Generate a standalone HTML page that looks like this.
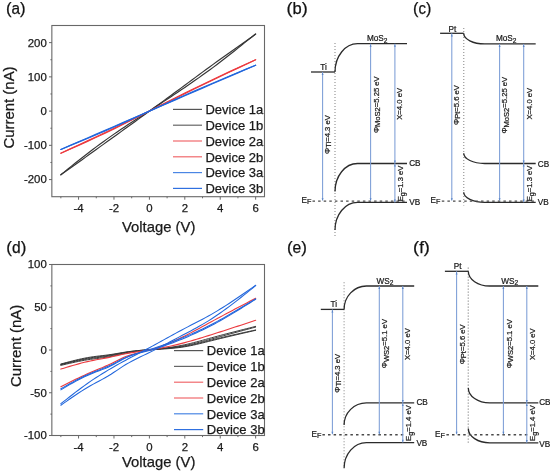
<!DOCTYPE html>
<html><head><meta charset="utf-8"><style>
html,body{margin:0;padding:0;background:#fff;}
body{width:550px;height:471px;overflow:hidden;}
svg{display:block;filter:blur(0.4px);font-family:"Liberation Sans", sans-serif;}
text{stroke:#1a1a1a;stroke-width:0.25px;}
.bt{stroke:#1a1a1a;stroke-width:0.22px;}
</style></head><body>
<svg width="550" height="471" viewBox="0 0 550 471">
<rect width="550" height="471" fill="#fff"/>
<g><rect x="51.85" y="25.5" width="212.65" height="171.2" fill="none" stroke="#686868" stroke-width="1.1"/><line x1="49.0" y1="179.58" x2="52.0" y2="179.58" stroke="#686868" stroke-width="1"/><text x="46.8" y="183.48" text-anchor="end" font-size="11.4" fill="#1a1a1a">-200</text><line x1="49.0" y1="145.34" x2="52.0" y2="145.34" stroke="#686868" stroke-width="1"/><text x="46.8" y="149.24" text-anchor="end" font-size="11.4" fill="#1a1a1a">-100</text><line x1="49.0" y1="111.10" x2="52.0" y2="111.10" stroke="#686868" stroke-width="1"/><text x="46.8" y="115.00" text-anchor="end" font-size="11.4" fill="#1a1a1a">0</text><line x1="49.0" y1="76.86" x2="52.0" y2="76.86" stroke="#686868" stroke-width="1"/><text x="46.8" y="80.76" text-anchor="end" font-size="11.4" fill="#1a1a1a">100</text><line x1="49.0" y1="42.62" x2="52.0" y2="42.62" stroke="#686868" stroke-width="1"/><text x="46.8" y="46.52" text-anchor="end" font-size="11.4" fill="#1a1a1a">200</text><line x1="50.4" y1="162.46" x2="52.0" y2="162.46" stroke="#686868" stroke-width="1"/><line x1="50.4" y1="128.22" x2="52.0" y2="128.22" stroke="#686868" stroke-width="1"/><line x1="50.4" y1="93.98" x2="52.0" y2="93.98" stroke="#686868" stroke-width="1"/><line x1="50.4" y1="59.74" x2="52.0" y2="59.74" stroke="#686868" stroke-width="1"/><line x1="78.56" y1="196.7" x2="78.56" y2="199.7" stroke="#686868" stroke-width="1"/><text x="78.56" y="212.2" text-anchor="middle" font-size="11.4" fill="#1a1a1a">-4</text><line x1="113.98" y1="196.7" x2="113.98" y2="199.7" stroke="#686868" stroke-width="1"/><text x="113.98" y="212.2" text-anchor="middle" font-size="11.4" fill="#1a1a1a">-2</text><line x1="149.40" y1="196.7" x2="149.40" y2="199.7" stroke="#686868" stroke-width="1"/><text x="149.40" y="212.2" text-anchor="middle" font-size="11.4" fill="#1a1a1a">0</text><line x1="184.81" y1="196.7" x2="184.81" y2="199.7" stroke="#686868" stroke-width="1"/><text x="184.81" y="212.2" text-anchor="middle" font-size="11.4" fill="#1a1a1a">2</text><line x1="220.23" y1="196.7" x2="220.23" y2="199.7" stroke="#686868" stroke-width="1"/><text x="220.23" y="212.2" text-anchor="middle" font-size="11.4" fill="#1a1a1a">4</text><line x1="255.65" y1="196.7" x2="255.65" y2="199.7" stroke="#686868" stroke-width="1"/><text x="255.65" y="212.2" text-anchor="middle" font-size="11.4" fill="#1a1a1a">6</text><line x1="60.85" y1="196.7" x2="60.85" y2="198.29999999999998" stroke="#686868" stroke-width="1"/><line x1="96.27" y1="196.7" x2="96.27" y2="198.29999999999998" stroke="#686868" stroke-width="1"/><line x1="131.69" y1="196.7" x2="131.69" y2="198.29999999999998" stroke="#686868" stroke-width="1"/><line x1="167.10" y1="196.7" x2="167.10" y2="198.29999999999998" stroke="#686868" stroke-width="1"/><line x1="202.52" y1="196.7" x2="202.52" y2="198.29999999999998" stroke="#686868" stroke-width="1"/><line x1="237.94" y1="196.7" x2="237.94" y2="198.29999999999998" stroke="#686868" stroke-width="1"/></g>
<g><path d="M60.85,174.79 L64.40,171.84 L67.94,168.95 L71.48,166.10 L75.02,163.27 L78.56,160.47 L82.10,157.70 L85.65,154.95 L89.19,152.23 L92.73,149.54 L96.27,146.89 L99.81,144.27 L103.35,141.69 L106.90,139.14 L110.44,136.63 L113.98,134.15 L117.52,131.71 L121.06,129.30 L124.60,126.92 L128.15,124.58 L131.69,122.26 L135.23,119.97 L138.77,117.70 L142.31,115.46 L145.85,113.24 L149.40,111.10 L152.94,108.58 L156.48,106.03 L160.02,103.46 L163.56,100.88 L167.10,98.29 L170.65,95.69 L174.19,93.08 L177.73,90.47 L181.27,87.85 L184.81,85.22 L188.35,82.60 L191.90,79.98 L195.44,77.36 L198.98,74.74 L202.52,72.13 L206.06,69.53 L209.60,66.94 L213.15,64.37 L216.69,61.80 L220.23,59.25 L223.77,56.71 L227.31,54.19 L230.85,51.68 L234.40,49.19 L237.94,46.70 L241.48,44.23 L245.02,41.76 L248.56,39.30 L252.10,36.74 L255.65,34.06" fill="none" stroke="#353535" stroke-width="1.15" stroke-linejoin="round" stroke-linecap="round"/><path d="M60.85,174.79 L64.40,172.34 L67.94,169.83 L71.48,167.30 L75.02,164.76 L78.56,162.22 L82.10,159.67 L85.65,157.11 L89.19,154.56 L92.73,152.01 L96.27,149.45 L99.81,146.90 L103.35,144.35 L106.90,141.81 L110.44,139.26 L113.98,136.72 L117.52,134.18 L121.06,131.63 L124.60,129.09 L128.15,126.55 L131.69,124.01 L135.23,121.46 L138.77,118.90 L142.31,116.34 L145.85,113.75 L149.40,111.10 L152.94,108.70 L156.48,106.33 L160.02,103.97 L163.56,101.61 L167.10,99.26 L170.65,96.90 L174.19,94.54 L177.73,92.17 L181.27,89.79 L184.81,87.40 L188.35,84.98 L191.90,82.55 L195.44,80.08 L198.98,77.60 L202.52,75.08 L206.06,72.53 L209.60,69.95 L213.15,67.34 L216.69,64.69 L220.23,62.01 L223.77,59.29 L227.31,56.55 L230.85,53.77 L234.40,50.96 L237.94,48.13 L241.48,45.27 L245.02,42.40 L248.56,39.52 L252.10,36.74 L255.65,34.06" fill="none" stroke="#353535" stroke-width="1.15" stroke-linejoin="round" stroke-linecap="round"/><path d="M60.85,153.22 L69.71,149.31 L78.56,145.38 L87.42,141.38 L96.27,137.31 L105.12,133.15 L113.98,128.89 L122.83,124.54 L131.69,120.11 L140.54,115.62 L149.40,111.10 L158.25,106.56 L167.10,102.04 L175.96,97.56 L184.81,93.12 L193.67,88.74 L202.52,84.43 L211.38,80.18 L220.23,76.00 L229.08,71.88 L237.94,67.80 L246.79,63.76 L255.65,59.74" fill="none" stroke="#ec3a3f" stroke-width="1.15" stroke-linejoin="round" stroke-linecap="round"/><path d="M60.85,153.22 L69.71,149.12 L78.56,145.01 L87.42,140.89 L96.27,136.73 L105.12,132.53 L113.98,128.30 L122.83,124.04 L131.69,119.74 L140.54,115.43 L149.40,111.10 L158.25,106.72 L167.10,102.35 L175.96,97.99 L184.81,93.65 L193.67,89.34 L202.52,85.04 L211.38,80.78 L220.23,76.53 L229.08,72.31 L237.94,68.11 L246.79,63.92 L255.65,59.74" fill="none" stroke="#ec3a3f" stroke-width="1.15" stroke-linejoin="round" stroke-linecap="round"/><path d="M60.85,149.45 L69.71,145.81 L78.56,142.16 L87.42,138.47 L96.27,134.73 L105.12,130.92 L113.98,127.06 L122.83,123.13 L131.69,119.15 L140.54,115.14 L149.40,111.10 L158.25,107.11 L167.10,103.13 L175.96,99.17 L184.81,95.24 L193.67,91.35 L202.52,87.51 L211.38,83.71 L220.23,79.95 L229.08,76.23 L237.94,72.54 L246.79,68.87 L255.65,65.22" fill="none" stroke="#2166dc" stroke-width="1.2" stroke-linejoin="round" stroke-linecap="round"/><path d="M60.85,149.45 L69.71,145.62 L78.56,141.80 L87.42,137.97 L96.27,134.14 L105.12,130.31 L113.98,126.47 L122.83,122.63 L131.69,118.79 L140.54,114.95 L149.40,111.10 L158.25,107.27 L167.10,103.44 L175.96,99.61 L184.81,95.78 L193.67,91.95 L202.52,88.12 L211.38,84.30 L220.23,80.48 L229.08,76.66 L237.94,72.85 L246.79,69.03 L255.65,65.22" fill="none" stroke="#2166dc" stroke-width="1.2" stroke-linejoin="round" stroke-linecap="round"/></g>
<g><line x1="173.0" y1="109.40" x2="202.0" y2="109.40" stroke="#555555" stroke-width="1.2"/><text x="205.4" y="114.10" font-size="13" fill="#1a1a1a">Device 1a</text><line x1="173.0" y1="125.20" x2="202.0" y2="125.20" stroke="#666666" stroke-width="1.2"/><text x="205.4" y="129.90" font-size="13" fill="#1a1a1a">Device 1b</text><line x1="173.0" y1="141.00" x2="202.0" y2="141.00" stroke="#f06a6d" stroke-width="1.2"/><text x="205.4" y="145.70" font-size="13" fill="#1a1a1a">Device 2a</text><line x1="173.0" y1="156.80" x2="202.0" y2="156.80" stroke="#f06a6d" stroke-width="1.2"/><text x="205.4" y="161.50" font-size="13" fill="#1a1a1a">Device 2b</text><line x1="173.0" y1="172.60" x2="202.0" y2="172.60" stroke="#4a86e4" stroke-width="1.2"/><text x="205.4" y="177.30" font-size="13" fill="#1a1a1a">Device 3a</text><line x1="173.0" y1="188.40" x2="202.0" y2="188.40" stroke="#2f70e0" stroke-width="1.2"/><text x="205.4" y="193.10" font-size="13" fill="#1a1a1a">Device 3b</text></g>
<text x="122.0" y="232.0" font-size="15" textLength="73.4" lengthAdjust="spacingAndGlyphs" fill="#1a1a1a">Voltage (V)</text>
<text transform="translate(13.5,148.6) rotate(-90)" font-size="15.2" textLength="82.2" lengthAdjust="spacingAndGlyphs" fill="#1a1a1a">Current (nA)</text>
<g><rect x="51.85" y="264.5" width="212.65" height="171.0" fill="none" stroke="#686868" stroke-width="1.1"/><line x1="49.0" y1="435.50" x2="52.0" y2="435.50" stroke="#686868" stroke-width="1"/><text x="46.8" y="439.40" text-anchor="end" font-size="11.4" fill="#1a1a1a">-100</text><line x1="49.0" y1="392.75" x2="52.0" y2="392.75" stroke="#686868" stroke-width="1"/><text x="46.8" y="396.65" text-anchor="end" font-size="11.4" fill="#1a1a1a">-50</text><line x1="49.0" y1="350.00" x2="52.0" y2="350.00" stroke="#686868" stroke-width="1"/><text x="46.8" y="353.90" text-anchor="end" font-size="11.4" fill="#1a1a1a">0</text><line x1="49.0" y1="307.25" x2="52.0" y2="307.25" stroke="#686868" stroke-width="1"/><text x="46.8" y="311.15" text-anchor="end" font-size="11.4" fill="#1a1a1a">50</text><line x1="49.0" y1="264.50" x2="52.0" y2="264.50" stroke="#686868" stroke-width="1"/><text x="46.8" y="268.40" text-anchor="end" font-size="11.4" fill="#1a1a1a">100</text><line x1="50.4" y1="414.12" x2="52.0" y2="414.12" stroke="#686868" stroke-width="1"/><line x1="50.4" y1="371.38" x2="52.0" y2="371.38" stroke="#686868" stroke-width="1"/><line x1="50.4" y1="328.62" x2="52.0" y2="328.62" stroke="#686868" stroke-width="1"/><line x1="50.4" y1="285.88" x2="52.0" y2="285.88" stroke="#686868" stroke-width="1"/><line x1="78.56" y1="435.5" x2="78.56" y2="438.5" stroke="#686868" stroke-width="1"/><text x="78.56" y="450.5" text-anchor="middle" font-size="11.4" fill="#1a1a1a">-4</text><line x1="113.98" y1="435.5" x2="113.98" y2="438.5" stroke="#686868" stroke-width="1"/><text x="113.98" y="450.5" text-anchor="middle" font-size="11.4" fill="#1a1a1a">-2</text><line x1="149.40" y1="435.5" x2="149.40" y2="438.5" stroke="#686868" stroke-width="1"/><text x="149.40" y="450.5" text-anchor="middle" font-size="11.4" fill="#1a1a1a">0</text><line x1="184.81" y1="435.5" x2="184.81" y2="438.5" stroke="#686868" stroke-width="1"/><text x="184.81" y="450.5" text-anchor="middle" font-size="11.4" fill="#1a1a1a">2</text><line x1="220.23" y1="435.5" x2="220.23" y2="438.5" stroke="#686868" stroke-width="1"/><text x="220.23" y="450.5" text-anchor="middle" font-size="11.4" fill="#1a1a1a">4</text><line x1="255.65" y1="435.5" x2="255.65" y2="438.5" stroke="#686868" stroke-width="1"/><text x="255.65" y="450.5" text-anchor="middle" font-size="11.4" fill="#1a1a1a">6</text><line x1="60.85" y1="435.5" x2="60.85" y2="437.1" stroke="#686868" stroke-width="1"/><line x1="96.27" y1="435.5" x2="96.27" y2="437.1" stroke="#686868" stroke-width="1"/><line x1="131.69" y1="435.5" x2="131.69" y2="437.1" stroke="#686868" stroke-width="1"/><line x1="167.10" y1="435.5" x2="167.10" y2="437.1" stroke="#686868" stroke-width="1"/><line x1="202.52" y1="435.5" x2="202.52" y2="437.1" stroke="#686868" stroke-width="1"/><line x1="237.94" y1="435.5" x2="237.94" y2="437.1" stroke="#686868" stroke-width="1"/></g>
<g><path d="M60.85,365.39 L63.81,364.70 L66.76,364.01 L69.71,363.33 L72.66,362.67 L75.61,362.03 L78.56,361.42 L81.51,360.84 L84.47,360.31 L87.42,359.81 L90.37,359.36 L93.32,358.97 L96.27,358.60 L99.22,358.24 L102.17,357.87 L105.12,357.47 L108.08,357.02 L111.03,356.49 L113.98,355.89 L116.93,355.23 L119.88,354.56 L122.83,353.90 L125.78,353.29 L128.74,352.74 L131.69,352.24 L134.64,351.80 L137.59,351.39 L140.54,351.02 L143.49,350.67 L146.44,350.33 L149.40,350.00 L152.35,349.67 L155.30,349.33 L158.25,348.97 L161.20,348.61 L164.15,348.23 L167.10,347.82 L170.06,347.39 L173.01,346.93 L175.96,346.44 L178.91,345.91 L181.86,345.34 L184.81,344.73 L187.76,344.07 L190.72,343.37 L193.67,342.63 L196.62,341.86 L199.57,341.07 L202.52,340.27 L205.47,339.45 L208.42,338.64 L211.38,337.82 L214.33,337.02 L217.28,336.23 L220.23,335.44 L223.18,334.66 L226.13,333.89 L229.08,333.12 L232.03,332.36 L234.99,331.61 L237.94,330.86 L240.89,330.11 L243.84,329.36 L246.79,328.62 L249.74,327.88 L252.69,327.14 L255.65,326.40" fill="none" stroke="#353535" stroke-width="0.95" stroke-linejoin="round" stroke-linecap="round" opacity="1.0"/><path d="M60.85,364.71 L63.81,364.00 L66.76,363.29 L69.71,362.60 L72.66,361.92 L75.61,361.26 L78.56,360.63 L81.51,360.04 L84.47,359.48 L87.42,358.97 L90.37,358.51 L93.32,358.09 L96.27,357.71 L99.22,357.35 L102.17,356.98 L105.12,356.58 L108.08,356.14 L111.03,355.65 L113.98,355.09 L116.93,354.48 L119.88,353.87 L122.83,353.27 L125.78,352.70 L128.74,352.19 L131.69,351.74 L134.64,351.33 L137.59,350.96 L140.54,350.62 L143.49,350.31 L146.44,350.02 L149.40,349.74 L152.35,349.48 L155.30,349.22 L158.25,348.95 L161.20,348.68 L164.15,348.39 L167.10,348.09 L170.06,347.76 L173.01,347.40 L175.96,347.01 L178.91,346.58 L181.86,346.10 L184.81,345.57 L187.76,344.98 L190.72,344.35 L193.67,343.67 L196.62,342.95 L199.57,342.19 L202.52,341.42 L205.47,340.63 L208.42,339.83 L211.38,339.02 L214.33,338.22 L217.28,337.42 L220.23,336.62 L223.18,335.82 L226.13,335.02 L229.08,334.23 L232.03,333.43 L234.99,332.63 L237.94,331.84 L240.89,331.05 L243.84,330.25 L246.79,329.46 L249.74,328.67 L252.69,327.88 L255.65,327.09" fill="none" stroke="#353535" stroke-width="0.95" stroke-linejoin="round" stroke-linecap="round" opacity="1.0"/><path d="M60.85,364.36 L63.81,363.61 L66.76,362.87 L69.71,362.14 L72.66,361.42 L75.61,360.73 L78.56,360.06 L81.51,359.44 L84.47,358.85 L87.42,358.31 L90.37,357.82 L93.32,357.38 L96.27,356.99 L99.22,356.61 L102.17,356.24 L105.12,355.86 L108.08,355.44 L111.03,354.97 L113.98,354.46 L116.93,353.91 L119.88,353.35 L122.83,352.80 L125.78,352.28 L128.74,351.81 L131.69,351.39 L134.64,351.00 L137.59,350.66 L140.54,350.34 L143.49,350.06 L146.44,349.81 L149.40,349.57 L152.35,349.36 L155.30,349.16 L158.25,348.96 L161.20,348.76 L164.15,348.55 L167.10,348.33 L170.06,348.08 L173.01,347.80 L175.96,347.49 L178.91,347.13 L181.86,346.72 L184.81,346.24 L187.76,345.71 L190.72,345.11 L193.67,344.46 L196.62,343.78 L199.57,343.06 L202.52,342.32 L205.47,341.57 L208.42,340.82 L211.38,340.07 L214.33,339.34 L217.28,338.62 L220.23,337.91 L223.18,337.21 L226.13,336.53 L229.08,335.85 L232.03,335.18 L234.99,334.51 L237.94,333.86 L240.89,333.20 L243.84,332.56 L246.79,331.91 L249.74,331.27 L252.69,330.63 L255.65,329.99" fill="none" stroke="#353535" stroke-width="0.95" stroke-linejoin="round" stroke-linecap="round" opacity="1.0"/><path d="M60.85,364.02 L63.81,363.22 L66.76,362.42 L69.71,361.64 L72.66,360.88 L75.61,360.15 L78.56,359.45 L81.51,358.79 L84.47,358.18 L87.42,357.63 L90.37,357.14 L93.32,356.71 L96.27,356.32 L99.22,355.97 L102.17,355.63 L105.12,355.28 L108.08,354.90 L111.03,354.48 L113.98,354.00 L116.93,353.50 L119.88,352.99 L122.83,352.50 L125.78,352.04 L128.74,351.63 L131.69,351.27 L134.64,350.96 L137.59,350.68 L140.54,350.43 L143.49,350.21 L146.44,350.01 L149.40,349.83 L152.35,349.66 L155.30,349.49 L158.25,349.33 L161.20,349.15 L164.15,348.96 L167.10,348.76 L170.06,348.52 L173.01,348.26 L175.96,347.95 L178.91,347.61 L181.86,347.21 L184.81,346.75 L187.76,346.24 L190.72,345.66 L193.67,345.04 L196.62,344.38 L199.57,343.68 L202.52,342.97 L205.47,342.23 L208.42,341.49 L211.38,340.76 L214.33,340.03 L217.28,339.31 L220.23,338.59 L223.18,337.88 L226.13,337.18 L229.08,336.48 L232.03,335.79 L234.99,335.10 L237.94,334.41 L240.89,333.73 L243.84,333.04 L246.79,332.37 L249.74,331.69 L252.69,331.01 L255.65,330.33" fill="none" stroke="#353535" stroke-width="0.95" stroke-linejoin="round" stroke-linecap="round" opacity="1.0"/><path d="M60.85,369.07 L63.81,368.17 L66.76,367.27 L69.71,366.39 L72.66,365.52 L75.61,364.67 L78.56,363.86 L81.51,363.07 L84.47,362.32 L87.42,361.62 L90.37,360.97 L93.32,360.36 L96.27,359.80 L99.22,359.25 L102.17,358.71 L105.12,358.16 L108.08,357.59 L111.03,356.98 L113.98,356.33 L116.93,355.66 L119.88,354.98 L122.83,354.33 L125.78,353.72 L128.74,353.16 L131.69,352.65 L134.64,352.18 L137.59,351.73 L140.54,351.30 L143.49,350.87 L146.44,350.44 L149.40,350.00 L152.35,349.53 L155.30,349.04 L158.25,348.52 L161.20,347.97 L164.15,347.40 L167.10,346.80 L170.06,346.17 L173.01,345.52 L175.96,344.84 L178.91,344.13 L181.86,343.39 L184.81,342.62 L187.76,341.82 L190.72,340.99 L193.67,340.14 L196.62,339.27 L199.57,338.38 L202.52,337.48 L205.47,336.56 L208.42,335.63 L211.38,334.70 L214.33,333.76 L217.28,332.82 L220.23,331.88 L223.18,330.93 L226.13,329.97 L229.08,329.02 L232.03,328.06 L234.99,327.10 L237.94,326.14 L240.89,325.17 L243.84,324.20 L246.79,323.24 L249.74,322.27 L252.69,321.30 L255.65,320.33" fill="none" stroke="#ec3a3f" stroke-width="1.1" stroke-linejoin="round" stroke-linecap="round" opacity="1.0"/><path d="M60.85,386.76 L63.81,385.26 L66.76,383.76 L69.71,382.27 L72.66,380.80 L75.61,379.34 L78.56,377.91 L81.51,376.51 L84.47,375.14 L87.42,373.82 L90.37,372.53 L93.32,371.29 L96.27,370.07 L99.22,368.86 L102.17,367.64 L105.12,366.37 L108.08,365.05 L111.03,363.65 L113.98,362.18 L116.93,360.68 L119.88,359.22 L122.83,357.83 L125.78,356.58 L128.74,355.49 L131.69,354.53 L134.64,353.69 L137.59,352.92 L140.54,352.20 L143.49,351.49 L146.44,350.77 L149.40,350.00 L152.35,349.16 L155.30,348.26 L158.25,347.28 L161.20,346.24 L164.15,345.13 L167.10,343.97 L170.06,342.75 L173.01,341.47 L175.96,340.15 L178.91,338.78 L181.86,337.36 L184.81,335.90 L187.76,334.41 L190.72,332.88 L193.67,331.33 L196.62,329.75 L199.57,328.16 L202.52,326.55 L205.47,324.94 L208.42,323.33 L211.38,321.72 L214.33,320.12 L217.28,318.53 L220.23,316.94 L223.18,315.37 L226.13,313.79 L229.08,312.23 L232.03,310.66 L234.99,309.11 L237.94,307.55 L240.89,306.00 L243.84,304.45 L246.79,302.90 L249.74,301.36 L252.69,299.82 L255.65,298.27" fill="none" stroke="#ec3a3f" stroke-width="1.1" stroke-linejoin="round" stroke-linecap="round" opacity="1.0"/><path d="M60.85,388.82 L63.81,387.12 L66.76,385.43 L69.71,383.77 L72.66,382.13 L75.61,380.52 L78.56,378.97 L81.51,377.46 L84.47,376.03 L87.42,374.67 L90.37,373.39 L93.32,372.19 L96.27,371.05 L99.22,369.93 L102.17,368.79 L105.12,367.60 L108.08,366.32 L111.03,364.93 L113.98,363.41 L116.93,361.84 L119.88,360.27 L122.83,358.77 L125.78,357.41 L128.74,356.22 L131.69,355.17 L134.64,354.25 L137.59,353.42 L140.54,352.65 L143.49,351.92 L146.44,351.18 L149.40,350.43 L152.35,349.62 L155.30,348.76 L158.25,347.86 L161.20,346.91 L164.15,345.91 L167.10,344.87 L170.06,343.79 L173.01,342.68 L175.96,341.53 L178.91,340.35 L181.86,339.15 L184.81,337.91 L187.76,336.66 L190.72,335.37 L193.67,334.06 L196.62,332.72 L199.57,331.35 L202.52,329.95 L205.47,328.51 L208.42,327.03 L211.38,325.51 L214.33,323.95 L217.28,322.35 L220.23,320.71 L223.18,319.04 L226.13,317.34 L229.08,315.62 L232.03,313.87 L234.99,312.09 L237.94,310.30 L240.89,308.49 L243.84,306.67 L246.79,304.84 L249.74,303.00 L252.69,301.15 L255.65,299.30" fill="none" stroke="#2166dc" stroke-width="1.05" stroke-linejoin="round" stroke-linecap="round" opacity="1.0"/><path d="M60.85,389.84 L63.81,388.10 L66.76,386.38 L69.71,384.67 L72.66,382.99 L75.61,381.36 L78.56,379.77 L81.51,378.25 L84.47,376.80 L87.42,375.43 L90.37,374.16 L93.32,372.98 L96.27,371.86 L99.22,370.75 L102.17,369.63 L105.12,368.46 L108.08,367.19 L111.03,365.78 L113.98,364.23 L116.93,362.61 L119.88,360.97 L122.83,359.38 L125.78,357.89 L128.74,356.55 L131.69,355.34 L134.64,354.24 L137.59,353.22 L140.54,352.27 L143.49,351.36 L146.44,350.47 L149.40,349.57 L152.35,348.66 L155.30,347.72 L158.25,346.76 L161.20,345.77 L164.15,344.76 L167.10,343.72 L170.06,342.65 L173.01,341.56 L175.96,340.43 L178.91,339.28 L181.86,338.10 L184.81,336.88 L187.76,335.64 L190.72,334.36 L193.67,333.05 L196.62,331.71 L199.57,330.33 L202.52,328.92 L205.47,327.48 L208.42,326.00 L211.38,324.48 L214.33,322.93 L217.28,321.35 L220.23,319.74 L223.18,318.10 L226.13,316.43 L229.08,314.74 L232.03,313.03 L234.99,311.30 L237.94,309.56 L240.89,307.80 L243.84,306.03 L246.79,304.25 L249.74,302.46 L252.69,300.67 L255.65,298.87" fill="none" stroke="#2166dc" stroke-width="1.05" stroke-linejoin="round" stroke-linecap="round" opacity="1.0"/><path d="M60.85,403.69 L63.81,401.37 L66.76,399.05 L69.71,396.74 L72.66,394.46 L75.61,392.19 L78.56,389.96 L81.51,387.76 L84.47,385.60 L87.42,383.49 L90.37,381.43 L93.32,379.43 L96.27,377.49 L99.22,375.59 L102.17,373.74 L105.12,371.94 L108.08,370.17 L111.03,368.43 L113.98,366.72 L116.93,365.04 L119.88,363.39 L122.83,361.77 L125.78,360.17 L128.74,358.58 L131.69,357.02 L134.64,355.47 L137.59,353.92 L140.54,352.37 L143.49,350.82 L146.44,349.26 L149.40,347.69 L152.35,346.10 L155.30,344.50 L158.25,342.88 L161.20,341.26 L164.15,339.63 L167.10,338.00 L170.06,336.37 L173.01,334.75 L175.96,333.14 L178.91,331.54 L181.86,329.96 L184.81,328.39 L187.76,326.85 L190.72,325.32 L193.67,323.80 L196.62,322.28 L199.57,320.75 L202.52,319.20 L205.47,317.62 L208.42,316.00 L211.38,314.34 L214.33,312.63 L217.28,310.87 L220.23,309.07 L223.18,307.23 L226.13,305.35 L229.08,303.44 L232.03,301.50 L234.99,299.53 L237.94,297.53 L240.89,295.52 L243.84,293.49 L246.79,291.45 L249.74,289.40 L252.69,287.34 L255.65,285.28" fill="none" stroke="#2166dc" stroke-width="1.05" stroke-linejoin="round" stroke-linecap="round" opacity="1.0"/><path d="M60.85,405.23 L63.81,403.15 L66.76,401.07 L69.71,399.01 L72.66,396.98 L75.61,394.97 L78.56,393.01 L81.51,391.10 L84.47,389.25 L87.42,387.46 L90.37,385.74 L93.32,384.10 L96.27,382.51 L99.22,380.93 L102.17,379.35 L105.12,377.71 L108.08,376.01 L111.03,374.20 L113.98,372.29 L116.93,370.32 L119.88,368.35 L122.83,366.41 L125.78,364.57 L128.74,362.84 L131.69,361.23 L134.64,359.70 L137.59,358.23 L140.54,356.80 L143.49,355.39 L146.44,353.99 L149.40,352.56 L152.35,351.10 L155.30,349.61 L158.25,348.08 L161.20,346.53 L164.15,344.97 L167.10,343.39 L170.06,341.82 L173.01,340.25 L175.96,338.68 L178.91,337.13 L181.86,335.59 L184.81,334.04 L187.76,332.49 L190.72,330.92 L193.67,329.33 L196.62,327.71 L199.57,326.06 L202.52,324.37 L205.47,322.63 L208.42,320.83 L211.38,318.97 L214.33,317.05 L217.28,315.06 L220.23,313.02 L223.18,310.93 L226.13,308.79 L229.08,306.60 L232.03,304.38 L234.99,302.12 L237.94,299.83 L240.89,297.52 L243.84,295.18 L246.79,292.83 L249.74,290.46 L252.69,288.08 L255.65,285.70" fill="none" stroke="#2166dc" stroke-width="1.05" stroke-linejoin="round" stroke-linecap="round" opacity="1.0"/></g>
<g><line x1="174.0" y1="350.60" x2="203.2" y2="350.60" stroke="#555555" stroke-width="1.2"/><text x="206.8" y="355.30" font-size="13" fill="#1a1a1a">Device 1a</text><line x1="174.0" y1="366.40" x2="203.2" y2="366.40" stroke="#666666" stroke-width="1.2"/><text x="206.8" y="371.10" font-size="13" fill="#1a1a1a">Device 1b</text><line x1="174.0" y1="382.20" x2="203.2" y2="382.20" stroke="#f06a6d" stroke-width="1.2"/><text x="206.8" y="386.90" font-size="13" fill="#1a1a1a">Device 2a</text><line x1="174.0" y1="398.00" x2="203.2" y2="398.00" stroke="#f06a6d" stroke-width="1.2"/><text x="206.8" y="402.70" font-size="13" fill="#1a1a1a">Device 2b</text><line x1="174.0" y1="413.80" x2="203.2" y2="413.80" stroke="#4a86e4" stroke-width="1.2"/><text x="206.8" y="418.50" font-size="13" fill="#1a1a1a">Device 3a</text><line x1="174.0" y1="429.60" x2="203.2" y2="429.60" stroke="#2f70e0" stroke-width="1.2"/><text x="206.8" y="434.30" font-size="13" fill="#1a1a1a">Device 3b</text></g>
<text x="122.0" y="466.8" font-size="15" textLength="73.4" lengthAdjust="spacingAndGlyphs" fill="#1a1a1a">Voltage (V)</text>
<text transform="translate(20.6,387.0) rotate(-90)" font-size="15.2" textLength="82.2" lengthAdjust="spacingAndGlyphs" fill="#1a1a1a">Current (nA)</text>
<text x="5.9" y="13.9" font-size="17" textLength="19.7" lengthAdjust="spacingAndGlyphs" fill="#111">(<tspan font-size="15.6">a</tspan>)</text>
<text x="286.6" y="13.9" font-size="17" textLength="21.2" lengthAdjust="spacingAndGlyphs" fill="#111">(<tspan font-size="15.6">b</tspan>)</text>
<text x="413.1" y="13.9" font-size="17" textLength="18.2" lengthAdjust="spacingAndGlyphs" fill="#111">(<tspan font-size="15.6">c</tspan>)</text>
<text x="6.3" y="252.6" font-size="17" textLength="20.0" lengthAdjust="spacingAndGlyphs" fill="#111">(<tspan font-size="15.6">d</tspan>)</text>
<text x="286.9" y="252.6" font-size="17" textLength="20.1" lengthAdjust="spacingAndGlyphs" fill="#111">(<tspan font-size="15.6">e</tspan>)</text>
<text x="413.1" y="252.6" font-size="17" textLength="16.8" lengthAdjust="spacingAndGlyphs" fill="#111">(<tspan font-size="15.6">f</tspan>)</text>
<g><line x1="335.0" y1="43" x2="335.0" y2="236" stroke="#a6a6a6" stroke-width="1.4" stroke-dasharray="1.1,1.9"/><line x1="311" y1="72" x2="335.0" y2="72" stroke="#2b2b2b" stroke-width="1.3"/><path d="M335.0,72 A22.5,28.299999999999997 0 0 1 357.5,43.7 H407" fill="none" stroke="#2b2b2b" stroke-width="1.3"/><path d="M335.0,191.6 A22.5,28.099999999999994 0 0 1 357.5,163.5 H407" fill="none" stroke="#2b2b2b" stroke-width="1.3"/><path d="M335.0,230 A22.5,27.599999999999994 0 0 1 357.5,202.4 H407" fill="none" stroke="#2b2b2b" stroke-width="1.3"/><line x1="312.5" y1="201.1" x2="406" y2="201.1" stroke="#4a4a4a" stroke-width="1.4" stroke-dasharray="2.5,3.1"/><line x1="322.6" y1="72" x2="322.6" y2="200.6" stroke="#7c9dd6" stroke-width="1.05"/><path d="M321.60,75.10 L322.60,72.80 L323.60,75.10Z" fill="#5b86c9"/><path d="M321.60,198.20 L322.60,200.50 L323.60,198.20Z" fill="#5b86c9"/><line x1="370.6" y1="43.7" x2="370.6" y2="200.6" stroke="#7c9dd6" stroke-width="1.05"/><path d="M369.60,46.80 L370.60,44.50 L371.60,46.80Z" fill="#5b86c9"/><path d="M369.60,198.20 L370.60,200.50 L371.60,198.20Z" fill="#5b86c9"/><line x1="394.9" y1="43.7" x2="394.9" y2="202.4" stroke="#7c9dd6" stroke-width="1.05"/><path d="M393.90,46.80 L394.90,44.50 L395.90,46.80Z" fill="#5b86c9"/><path d="M393.90,160.60 L394.90,162.90 L395.90,160.60Z" fill="#5b86c9"/><path d="M393.90,166.60 L394.90,164.30 L395.90,166.60Z" fill="#5b86c9"/><path d="M393.90,199.50 L394.90,201.80 L395.90,199.50Z" fill="#5b86c9"/><text class="bt" x="320.2" y="70.0" font-size="8.2" fill="#1a1a1a" text-anchor="start">Ti</text><text class="bt" x="366.9" y="41.3" font-size="8.2" fill="#1a1a1a" text-anchor="start">MoS<tspan font-size="6.6" dy="1.2">2</tspan></text><text class="bt" x="301.6" y="202.7" font-size="8.2" fill="#1a1a1a" text-anchor="start">E<tspan font-size="7.2" dy="1.0">F</tspan></text><text class="bt" x="409.2" y="166.2" font-size="8.2" fill="#1a1a1a" text-anchor="start">CB</text><text class="bt" x="409.2" y="205.2" font-size="8.2" fill="#1a1a1a" text-anchor="start">VB</text><text class="bt" transform="translate(329.8,154.0) rotate(-90)" font-size="7.7" fill="#1a1a1a">Φ<tspan font-size="7.55" dy="1.2">Ti</tspan><tspan dy="-1.2">=4.3 eV</tspan></text><text class="bt" transform="translate(378.7,133.1) rotate(-90)" font-size="7.7" fill="#1a1a1a">Φ<tspan font-size="7.55" dy="1.2">MoS2</tspan><tspan dy="-1.2">=5.25 eV</tspan></text><text class="bt" transform="translate(402.2,119.8) rotate(-90)" font-size="7.7" fill="#1a1a1a">X=4.0 eV</text><text class="bt" transform="translate(402.6,201.3) rotate(-90)" font-size="7.7" fill="#1a1a1a">E<tspan font-size="7.08" dy="2.0">g</tspan><tspan dy="-2.0">=1.3 eV</tspan></text></g>
<g><line x1="463.7" y1="28" x2="463.7" y2="205.5" stroke="#a6a6a6" stroke-width="1.4" stroke-dasharray="1.1,1.9"/><line x1="440.1" y1="33.3" x2="463.7" y2="33.3" stroke="#2b2b2b" stroke-width="1.3"/><path d="M463.7,33.3 A21,10.600000000000001 0 0 0 484.7,43.9 H535.7" fill="none" stroke="#2b2b2b" stroke-width="1.3"/><path d="M463.7,153.3 A21,10.199999999999989 0 0 0 484.7,163.5 H535.7" fill="none" stroke="#2b2b2b" stroke-width="1.3"/><path d="M463.7,192.2 A21,10.100000000000023 0 0 0 484.7,202.3 H535.7" fill="none" stroke="#2b2b2b" stroke-width="1.3"/><line x1="441.8" y1="201.1" x2="534.7" y2="201.1" stroke="#4a4a4a" stroke-width="1.4" stroke-dasharray="2.5,3.1"/><line x1="451.8" y1="33.3" x2="451.8" y2="200.6" stroke="#7c9dd6" stroke-width="1.05"/><path d="M450.80,36.40 L451.80,34.10 L452.80,36.40Z" fill="#5b86c9"/><path d="M450.80,198.20 L451.80,200.50 L452.80,198.20Z" fill="#5b86c9"/><line x1="499.6" y1="43.9" x2="499.6" y2="200.6" stroke="#7c9dd6" stroke-width="1.05"/><path d="M498.60,47.00 L499.60,44.70 L500.60,47.00Z" fill="#5b86c9"/><path d="M498.60,198.20 L499.60,200.50 L500.60,198.20Z" fill="#5b86c9"/><line x1="523.7" y1="43.9" x2="523.7" y2="202.3" stroke="#7c9dd6" stroke-width="1.05"/><path d="M522.70,47.00 L523.70,44.70 L524.70,47.00Z" fill="#5b86c9"/><path d="M522.70,160.60 L523.70,162.90 L524.70,160.60Z" fill="#5b86c9"/><path d="M522.70,166.60 L523.70,164.30 L524.70,166.60Z" fill="#5b86c9"/><path d="M522.70,199.40 L523.70,201.70 L524.70,199.40Z" fill="#5b86c9"/><text class="bt" x="448.6" y="31.5" font-size="8.2" fill="#1a1a1a" text-anchor="start">Pt</text><text class="bt" x="495.9" y="41.3" font-size="8.2" fill="#1a1a1a" text-anchor="start">MoS<tspan font-size="6.6" dy="1.2">2</tspan></text><text class="bt" x="430.5" y="202.7" font-size="8.2" fill="#1a1a1a" text-anchor="start">E<tspan font-size="7.2" dy="1.0">F</tspan></text><text class="bt" x="537.8" y="166.6" font-size="8.2" fill="#1a1a1a" text-anchor="start">CB</text><text class="bt" x="537.8" y="205.2" font-size="8.2" fill="#1a1a1a" text-anchor="start">VB</text><text class="bt" transform="translate(458.8,125.0) rotate(-90)" font-size="7.7" fill="#1a1a1a">Φ<tspan font-size="7.55" dy="1.2">Pt</tspan><tspan dy="-1.2">=5.6 eV</tspan></text><text class="bt" transform="translate(507.3,133.6) rotate(-90)" font-size="7.7" fill="#1a1a1a">Φ<tspan font-size="7.55" dy="1.2">MoS2</tspan><tspan dy="-1.2">=5.25 eV</tspan></text><text class="bt" transform="translate(531.5,119.6) rotate(-90)" font-size="7.7" fill="#1a1a1a">X=4.0 eV</text><text class="bt" transform="translate(531.8,201.3) rotate(-90)" font-size="7.7" fill="#1a1a1a">E<tspan font-size="7.08" dy="2.0">g</tspan><tspan dy="-2.0">=1.3 eV</tspan></text></g>
<g><line x1="344.1" y1="282.2" x2="344.1" y2="468" stroke="#a6a6a6" stroke-width="1.4" stroke-dasharray="1.1,1.9"/><line x1="320.8" y1="309.4" x2="344.1" y2="309.4" stroke="#2b2b2b" stroke-width="1.3"/><path d="M344.1,309.4 A22.3,23.399999999999977 0 0 1 366.40000000000003,286.0 H414.2" fill="none" stroke="#2b2b2b" stroke-width="1.3"/><path d="M344.1,425.1 A22.3,22.200000000000045 0 0 1 366.40000000000003,402.9 H414.2" fill="none" stroke="#2b2b2b" stroke-width="1.3"/><path d="M344.1,468.2 A22.3,25.599999999999966 0 0 1 366.40000000000003,442.6 H414.2" fill="none" stroke="#2b2b2b" stroke-width="1.3"/><line x1="322.4" y1="434.7" x2="403.2" y2="434.7" stroke="#4a4a4a" stroke-width="1.4" stroke-dasharray="2.5,3.1"/><line x1="332.4" y1="309.4" x2="332.4" y2="434.2" stroke="#7c9dd6" stroke-width="1.05"/><path d="M331.40,312.50 L332.40,310.20 L333.40,312.50Z" fill="#5b86c9"/><path d="M331.40,431.80 L332.40,434.10 L333.40,431.80Z" fill="#5b86c9"/><line x1="379.3" y1="286.0" x2="379.3" y2="434.2" stroke="#7c9dd6" stroke-width="1.05"/><path d="M378.30,289.10 L379.30,286.80 L380.30,289.10Z" fill="#5b86c9"/><path d="M378.30,431.80 L379.30,434.10 L380.30,431.80Z" fill="#5b86c9"/><line x1="402.8" y1="286.0" x2="402.8" y2="442.6" stroke="#7c9dd6" stroke-width="1.05"/><path d="M401.80,289.10 L402.80,286.80 L403.80,289.10Z" fill="#5b86c9"/><path d="M401.80,400.00 L402.80,402.30 L403.80,400.00Z" fill="#5b86c9"/><path d="M401.80,406.00 L402.80,403.70 L403.80,406.00Z" fill="#5b86c9"/><path d="M401.80,439.70 L402.80,442.00 L403.80,439.70Z" fill="#5b86c9"/><text class="bt" x="330.5" y="306.9" font-size="8.2" fill="#1a1a1a" text-anchor="start">Ti</text><text class="bt" x="376.6" y="283.8" font-size="8.2" fill="#1a1a1a" text-anchor="start">WS<tspan font-size="6.6" dy="1.2">2</tspan></text><text class="bt" x="311.6" y="436.5" font-size="8.2" fill="#1a1a1a" text-anchor="start">E<tspan font-size="7.2" dy="1.0">F</tspan></text><text class="bt" x="416.4" y="405.2" font-size="8.2" fill="#1a1a1a" text-anchor="start">CB</text><text class="bt" x="416.4" y="445.8" font-size="8.2" fill="#1a1a1a" text-anchor="start">VB</text><text class="bt" transform="translate(340.2,392.7) rotate(-90)" font-size="7.7" fill="#1a1a1a">Φ<tspan font-size="7.55" dy="1.2">Ti</tspan><tspan dy="-1.2">=4.3 eV</tspan></text><text class="bt" transform="translate(387.4,368.2) rotate(-90)" font-size="7.7" fill="#1a1a1a">Φ<tspan font-size="7.55" dy="1.2">WS2</tspan><tspan dy="-1.2">=5.1 eV</tspan></text><text class="bt" transform="translate(410.4,360.0) rotate(-90)" font-size="7.7" fill="#1a1a1a">X=4.0 eV</text><text class="bt" transform="translate(410.5,440.9) rotate(-90)" font-size="7.7" fill="#1a1a1a">E<tspan font-size="7.08" dy="2.0">g</tspan><tspan dy="-2.0">=1.4 eV</tspan></text></g>
<g><line x1="468.3" y1="267.6" x2="468.3" y2="443.6" stroke="#a6a6a6" stroke-width="1.4" stroke-dasharray="1.1,1.9"/><line x1="444.9" y1="271.3" x2="468.3" y2="271.3" stroke="#2b2b2b" stroke-width="1.3"/><path d="M468.3,271.3 A21.5,14.699999999999989 0 0 0 489.8,286.0 H538.3" fill="none" stroke="#2b2b2b" stroke-width="1.3"/><path d="M468.3,387.9 A21.5,15.0 0 0 0 489.8,402.9 H538.3" fill="none" stroke="#2b2b2b" stroke-width="1.3"/><path d="M468.3,428.5 A21.5,14.300000000000011 0 0 0 489.8,442.8 H538.3" fill="none" stroke="#2b2b2b" stroke-width="1.3"/><line x1="446.4" y1="434.7" x2="527.5" y2="434.7" stroke="#4a4a4a" stroke-width="1.4" stroke-dasharray="2.5,3.1"/><line x1="456.6" y1="271.3" x2="456.6" y2="434.2" stroke="#7c9dd6" stroke-width="1.05"/><path d="M455.60,274.40 L456.60,272.10 L457.60,274.40Z" fill="#5b86c9"/><path d="M455.60,431.80 L456.60,434.10 L457.60,431.80Z" fill="#5b86c9"/><line x1="503.4" y1="286.0" x2="503.4" y2="434.2" stroke="#7c9dd6" stroke-width="1.05"/><path d="M502.40,289.10 L503.40,286.80 L504.40,289.10Z" fill="#5b86c9"/><path d="M502.40,431.80 L503.40,434.10 L504.40,431.80Z" fill="#5b86c9"/><line x1="526.8" y1="286.0" x2="526.8" y2="442.8" stroke="#7c9dd6" stroke-width="1.05"/><path d="M525.80,289.10 L526.80,286.80 L527.80,289.10Z" fill="#5b86c9"/><path d="M525.80,400.00 L526.80,402.30 L527.80,400.00Z" fill="#5b86c9"/><path d="M525.80,406.00 L526.80,403.70 L527.80,406.00Z" fill="#5b86c9"/><path d="M525.80,439.90 L526.80,442.20 L527.80,439.90Z" fill="#5b86c9"/><text class="bt" x="453.8" y="269.4" font-size="8.2" fill="#1a1a1a" text-anchor="start">Pt</text><text class="bt" x="501.3" y="283.8" font-size="8.2" fill="#1a1a1a" text-anchor="start">WS<tspan font-size="6.6" dy="1.2">2</tspan></text><text class="bt" x="435.0" y="436.5" font-size="8.2" fill="#1a1a1a" text-anchor="start">E<tspan font-size="7.2" dy="1.0">F</tspan></text><text class="bt" x="539.2" y="405.4" font-size="8.2" fill="#1a1a1a" text-anchor="start">CB</text><text class="bt" x="539.2" y="446.6" font-size="8.2" fill="#1a1a1a" text-anchor="start">VB</text><text class="bt" transform="translate(464.8,364.3) rotate(-90)" font-size="7.7" fill="#1a1a1a">Φ<tspan font-size="7.55" dy="1.2">Pt</tspan><tspan dy="-1.2">=5.6 eV</tspan></text><text class="bt" transform="translate(511.7,368.3) rotate(-90)" font-size="7.7" fill="#1a1a1a">Φ<tspan font-size="7.55" dy="1.2">WS2</tspan><tspan dy="-1.2">=5.1 eV</tspan></text><text class="bt" transform="translate(534.6,360.1) rotate(-90)" font-size="7.7" fill="#1a1a1a">X=4.0 eV</text><text class="bt" transform="translate(535.2,440.9) rotate(-90)" font-size="7.7" fill="#1a1a1a">E<tspan font-size="7.08" dy="2.0">g</tspan><tspan dy="-2.0">=1.4 eV</tspan></text></g>
</svg>
</body></html>
